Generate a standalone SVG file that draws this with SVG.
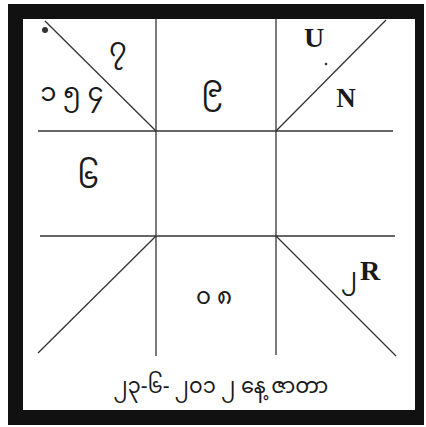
<svg xmlns="http://www.w3.org/2000/svg" width="426" height="427" viewBox="0 0 426 427">
<style>
.ln{stroke:#333;stroke-width:1.3;fill:none}
.my{font-family:"Noto Sans Myanmar","Padauk","Myanmar Text","DejaVu Sans",sans-serif;fill:#1a1a1a}
.lat{font-family:"Liberation Serif",serif;font-weight:bold;fill:#1a1a1a}
</style>
<rect x="8" y="4" width="416" height="421" fill="#111"/>
<rect x="23" y="19" width="392" height="391" fill="#fff"/>
<g id="connectors">
<line class="ln" x1="38" y1="131" x2="393" y2="131"/>
<line class="ln" x1="40" y1="236" x2="395" y2="236"/>
<line class="ln" x1="156" y1="19" x2="156" y2="356"/>
<line class="ln" x1="276" y1="19" x2="276" y2="355"/>
<line class="ln" x1="45" y1="21" x2="156" y2="131"/>
<line class="ln" x1="276" y1="131" x2="386" y2="20"/>
<line class="ln" x1="156" y1="236" x2="38" y2="353"/>
<line class="ln" x1="276" y1="236" x2="396" y2="356"/>
</g>
<g id="mark"><circle cx="45" cy="30" r="3" fill="#333"/></g>
<g id="cell-top-left">
<text class="my" x="118" y="57" font-size="27" text-anchor="middle">၇</text>
<text class="my" x="72" y="101" font-size="26" text-anchor="middle">၁ ၅ ၄</text>
</g>
<g id="cell-top-mid"><text class="my" x="212" y="97" font-size="30" text-anchor="middle">၉</text></g>
<g id="cell-top-right">
<text class="lat" x="314" y="47" font-size="28" text-anchor="middle">U</text>
<circle cx="326" cy="64" r="1.3" fill="#333"/>
<text class="lat" x="346" y="107" font-size="27" text-anchor="middle">N</text>
</g>
<g id="cell-mid-left"><text class="my" x="88" y="188" font-size="30" text-anchor="middle">၆</text></g>
<g id="cell-bottom-mid"><text class="my" x="214" y="304" font-size="23" text-anchor="middle">၀ ၈</text></g>
<g id="cell-bottom-right">
<text class="my" x="349" y="285" font-size="24" text-anchor="middle">၂</text>
<text class="lat" x="370" y="280" font-size="28" text-anchor="middle">R</text>
</g>
<g id="caption"><text class="my" x="221" y="393" font-size="21" text-anchor="middle">၂၃-၆- ၂၀၁ ၂ နေ့ ဇာတာ</text></g>
</svg>
